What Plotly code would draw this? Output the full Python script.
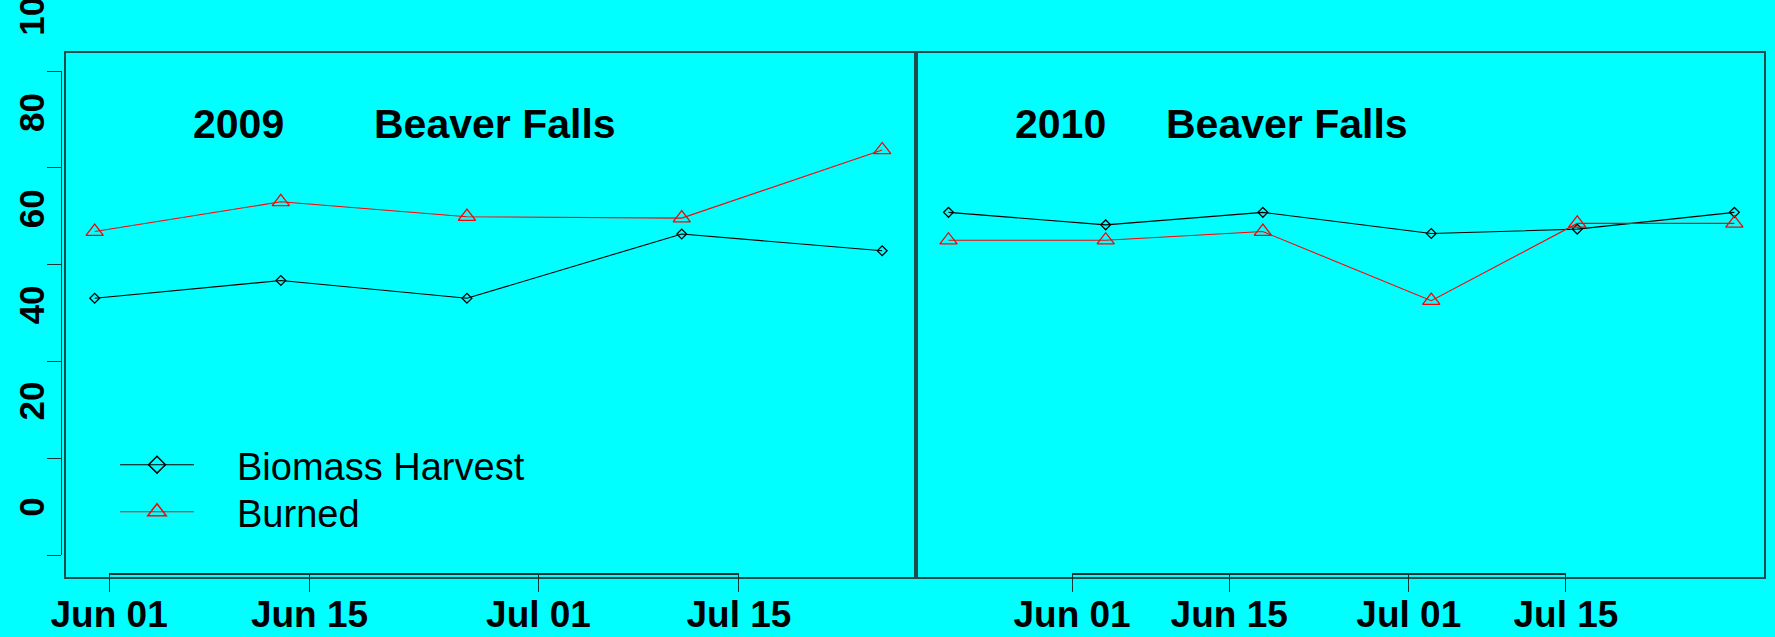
import pandas as pd
import plotly.graph_objects as go

# ---------------- data ----------------
dates_2009 = ["2009-05-31", "2009-06-13", "2009-06-26", "2009-07-11", "2009-07-25"]
biomass_2009 = [41.4, 45.1, 41.4, 54.8, 51.3]
burned_2009 = [55.3, 61.5, 58.4, 58.1, 72.3]

dates_2010 = ["2010-05-21", "2010-06-04", "2010-06-18", "2010-07-03", "2010-07-16", "2010-07-30"]
biomass_2010 = [59.3, 56.7, 59.3, 54.9, 55.8, 59.3]
burned_2010 = [53.5, 53.5, 55.3, 40.9, 57.0, 57.0]

series_names = ["Biomass Harvest", "Burned"]
panel_titles = [("2009", "Beaver Falls"), ("2010", "Beaver Falls")]
x_tick_labels = ["Jun 01", "Jun 15", "Jul 01", "Jul 15"]
x_tick_md = ["06-01", "06-15", "07-01", "07-15"]
y_tick_vals = [0, 20, 40, 60, 80, 100]

# ---------------- layout geometry (pixels) ----------------
W, H = 1775, 637
BG = "#00FFFF"
BOX = "#1e4d4d"
AXC = "#1a3535"


def fx(p):
    return p / W


def fy(p):
    return 1 - p / H


box_top, box_bot = 53, 577
left_box = (66, 914)
right_box = (918, 1764)
left_br = (109, 739)
right_br = (1072, 1566)
bracket_y = 573

y0_px, y_scale = 497.0, 4.8
y_range = [(y0_px - box_bot) / y_scale, (y0_px - box_top) / y_scale]


def date_range(year, br, box):
    start = pd.Timestamp(f"{year}-06-01")
    end = pd.Timestamp(f"{year}-07-15")
    ppd = (br[1] - br[0]) / (end - start).days
    lo = start + pd.Timedelta(days=(box[0] - br[0]) / ppd)
    hi = start + pd.Timedelta(days=(box[1] - br[0]) / ppd)
    return [lo.strftime("%Y-%m-%d %H:%M:%S"), hi.strftime("%Y-%m-%d %H:%M:%S")]


def bracket_range(year):
    eps = pd.Timedelta(minutes=10)
    return [(pd.Timestamp(f"{year}-06-01") - eps).strftime("%Y-%m-%d %H:%M:%S"),
            (pd.Timestamp(f"{year}-07-15") + eps).strftime("%Y-%m-%d %H:%M:%S")]


fig = go.Figure()

line_b = dict(color="black", width=1.1)
line_r = dict(color="#FF0000", width=1.1)
mk_b = dict(symbol="diamond-open", size=7.5, color="black", line=dict(width=1.3, color="black"))
mk_r = dict(symbol="triangle-up-open", size=15, color="#FF0000", line=dict(width=1.3, color="#FF0000"))

for xs, yb, yr, xa, ya in [(dates_2009, biomass_2009, burned_2009, "x", "y"),
                           (dates_2010, biomass_2010, burned_2010, "x2", "y2")]:
    fig.add_trace(go.Scatter(x=xs, y=yb, mode="lines+markers", line=line_b, marker=mk_b,
                             xaxis=xa, yaxis=ya, showlegend=False, hoverinfo="skip"))
    fig.add_trace(go.Scatter(x=xs, y=yr, mode="lines+markers", line=line_r, marker=mk_r,
                             xaxis=xa, yaxis=ya, showlegend=False, hoverinfo="skip"))

# legend-only entries (one legend box per row)
fig.add_trace(go.Scatter(x=[None], y=[None], mode="lines+markers", name="\u2002\u2002" + series_names[0],
                         line=line_b, legend="legend",
                         marker=dict(symbol="diamond-open", size=13, color="black",
                                     line=dict(width=1.5, color="black"))))
fig.add_trace(go.Scatter(x=[None], y=[None], mode="lines+markers", name="\u2002\u2002" + series_names[1],
                         line=line_r, legend="legend2",
                         marker=dict(symbol="triangle-up-open", size=16, color="#FF0000",
                                     line=dict(width=1.5, color="#FF0000"))))

for xa, ya in [("x3", "y3"), ("x4", "y4"), ("x5", "y5"), ("x6", "y5")]:
    fig.add_trace(go.Scatter(x=[], y=[], xaxis=xa, yaxis=ya, showlegend=False, hoverinfo="skip"))

box_axis = dict(showline=True, mirror=True, linecolor=BOX, linewidth=2, ticks="",
                showticklabels=False, showgrid=False, zeroline=False, fixedrange=True,
                automargin=False)

lab_size = 35
lab_w = 3 * 0.556 * lab_size
lab_bottom0, lab_scale = 522.0, 4.81
lab_c0 = lab_bottom0 - lab_w / 2
lab_range = [(lab_c0 - H) / lab_scale, lab_c0 / lab_scale]
lab_text = [str(v) + "\u2007" * (3 - len(str(v))) for v in y_tick_vals]

bold_font = "Liberation Sans, Arial, sans-serif"

hidden = dict(visible=False, range=[0, 1], automargin=False)

bracket_common = dict(type="date", anchor="y5", tickmode="array", ticktext=x_tick_labels,
                      ticks="outside", ticklen=17, tickcolor=AXC, tickwidth=1.2,
                      showline=True, linecolor=AXC, linewidth=1.5, showgrid=False,
                      zeroline=False, automargin=False, ticklabeloverflow="allow",
                      ticklabelstandoff=-9,
                      tickfont=dict(family=bold_font, size=37, color="black", weight="bold"))

legend_common = dict(xanchor="left", yanchor="middle", bgcolor="rgba(0,0,0,0)",
                     font=dict(family="Liberation Sans, Arial, sans-serif", size=38, color="black"),
                     itemwidth=74)

fig.update_layout(
    width=W, height=H,
    margin=dict(l=0, r=0, t=0, b=0, pad=0, autoexpand=False),
    paper_bgcolor=BG, plot_bgcolor=BG,
    xaxis=dict(box_axis, domain=[fx(left_box[0]), fx(left_box[1])], type="date",
               range=date_range(2009, left_br, left_box), anchor="y"),
    yaxis=dict(box_axis, domain=[fy(box_bot), fy(box_top)], range=y_range, anchor="x"),
    xaxis2=dict(box_axis, domain=[fx(right_box[0]), fx(right_box[1])], type="date",
                range=date_range(2010, right_br, right_box), anchor="y2"),
    yaxis2=dict(box_axis, domain=[fy(box_bot), fy(box_top)], range=y_range, anchor="x2"),
    xaxis3=dict(hidden, domain=[fx(52), fx(53)]),
    yaxis3=dict(domain=[0, 1], range=lab_range, anchor="x3", tickmode="array",
                tickvals=y_tick_vals, ticktext=lab_text, tickangle=-90, ticks="",
                showline=False, showgrid=False, zeroline=False, ticklabeloverflow="allow",
                automargin=False,
                tickfont=dict(family=bold_font, size=lab_size, color="black", weight="bold")),
    xaxis4=dict(hidden, domain=[fx(62), fx(63)]),
    yaxis4=dict(domain=[fy(555), fy(71)], range=[0, 100], anchor="x4", tickmode="array",
                tickvals=y_tick_vals, showticklabels=False, ticks="outside", ticklen=14,
                tickcolor=AXC, tickwidth=1.2, showline=True, linecolor=AXC, linewidth=1.2,
                showgrid=False, zeroline=False, automargin=False),
    yaxis5=dict(hidden, domain=[fy(bracket_y), fy(bracket_y) + 0.01]),
    xaxis5=dict(bracket_common, domain=[fx(left_br[0]), fx(left_br[1])], range=bracket_range(2009),
                tickvals=[f"2009-{d}" for d in x_tick_md]),
    xaxis6=dict(bracket_common, domain=[fx(right_br[0]), fx(right_br[1])], range=bracket_range(2010),
                tickvals=[f"2010-{d}" for d in x_tick_md]),
    legend=dict(legend_common, x=fx(115), y=fy(465)),
    legend2=dict(legend_common, x=fx(115), y=fy(512)),
    showlegend=True,
)

title_pos = [((238, 495), 124), ((1060, 1287), 124)]
for (t_year, t_site), ((x_year, x_site), ty) in zip(panel_titles, title_pos):
    for txt, xp in [(t_year, x_year), (t_site, x_site)]:
        fig.add_annotation(text=txt, xref="paper", yref="paper", x=fx(xp), y=fy(ty),
                           xanchor="center", yanchor="middle", showarrow=False,
                           font=dict(family=bold_font, size=41, color="black", weight="bold"))

fig.write_html("out.html", config={"displayModeBar": False},
               post_script="document.body.style.margin='0';document.body.style.background='#00FFFF';")
